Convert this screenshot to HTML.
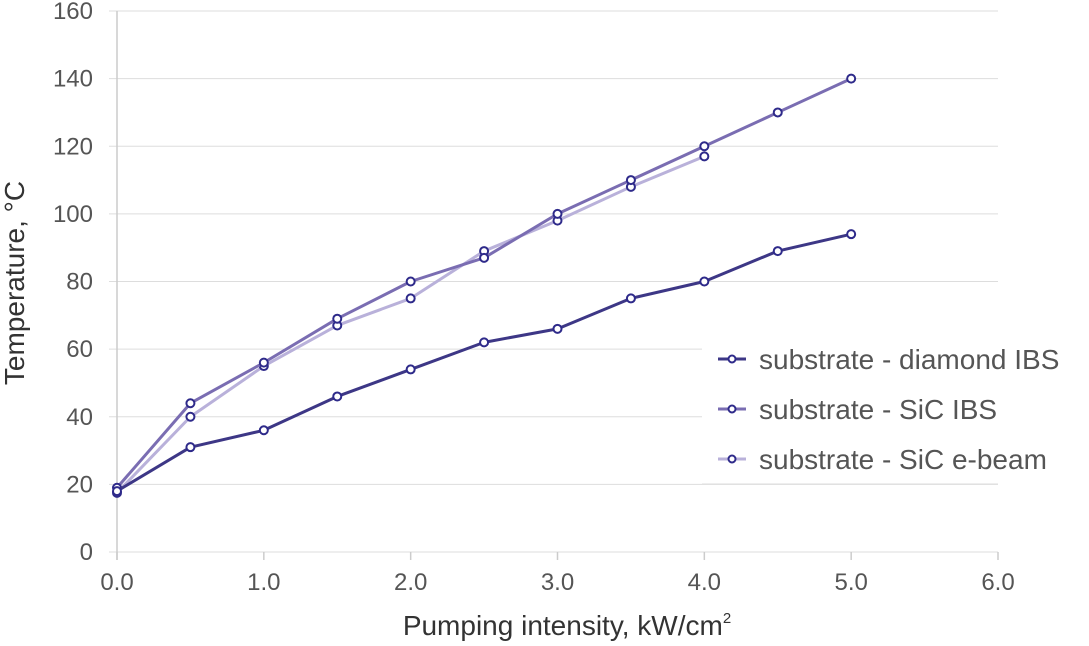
<!DOCTYPE html>
<html><head><meta charset="utf-8"><style>
body{margin:0;background:#fff;}
svg{font-family:"Liberation Sans",sans-serif;}
</style></head><body>
<svg id="chart" width="1089" height="641" xmlns="http://www.w3.org/2000/svg">
<g id="grid"></g><g id="axes"></g><g id="series"></g>
<g>
<rect x="702" y="334" width="387" height="150" fill="#fff"/>
<line x1="702" y1="484" x2="998" y2="484" stroke="#ddd" stroke-width="1"/>
<g>
<line x1="718" y1="359" x2="746" y2="359" stroke="#3d3786" stroke-width="3"/><circle cx="732" cy="359" r="3.5" fill="#fff" stroke="#2e2a8a" stroke-width="2"/>
<text x="759" y="369" font-size="28" fill="#555">substrate - diamond IBS</text></g>
<g>
<line x1="718" y1="409" x2="746" y2="409" stroke="#7a6db2" stroke-width="3"/><circle cx="732" cy="409" r="3.5" fill="#fff" stroke="#2e2a8a" stroke-width="2"/>
<text x="759" y="419" font-size="28" fill="#555">substrate - SiC IBS</text></g>
<g>
<line x1="718" y1="459" x2="746" y2="459" stroke="#b9b1da" stroke-width="3"/><circle cx="732" cy="459" r="3.5" fill="#fff" stroke="#2e2a8a" stroke-width="2"/>
<text x="759" y="469" font-size="28" fill="#555">substrate - SiC e-beam</text></g>
</g>
<text x="567" y="635" font-size="28" fill="#333" text-anchor="middle">Pumping intensity, kW/cm<tspan font-size="15" dy="-12">2</tspan></text>
<text transform="translate(24,283) rotate(-90)" font-size="28" fill="#333" text-anchor="middle">Temperature, °C</text>
</svg>
<script>
const xTicks=[0,1,2,3,4,5,6];
const yTicks=[0,20,40,60,80,100,120,140,160];
const xDiamond=[0,0.5,1,1.5,2,2.5,3,3.5,4,4.5,5];
const yDiamond=[18,31,36,46,54,62,66,75,80,89,94];
const xIBS=[0,0.5,1,1.5,2,2.5,3,3.5,4,4.5,5];
const yIBS=[19,44,56,69,80,87,100,110,120,130,140];
const xEbeam=[0,0.5,1,1.5,2,2.5,3,3.5,4];
const yEbeam=[17.5,40,55,67,75,89,98,108,117];
const X=v=>117+v*(998-117)/6;
const Y=v=>552-v*(552-11)/160;
const NS="http://www.w3.org/2000/svg";
function mk(t,a,p){const e=document.createElementNS(NS,t);for(const k in a)e.setAttribute(k,a[k]);p.appendChild(e);return e;}
const grid=document.getElementById('grid'),axes=document.getElementById('axes'),ser=document.getElementById('series');
yTicks.forEach(v=>{
 const l=mk('line',{x1:109,x2:998,y1:Y(v),y2:Y(v),stroke:'#ddd','stroke-width':1},grid);
 
 
 const t=mk('text',{x:93,y:Y(v)+8,'font-size':24,fill:'#555','text-anchor':'end'},axes);
 t.textContent=v;
 
 
});
const ax=mk('line',{x1:117,x2:117,y1:11,y2:560,stroke:'#ccc','stroke-width':1.5},axes);


xTicks.forEach(v=>{
 const tk=mk('line',{x1:X(v),x2:X(v),y1:552,y2:560,stroke:'#ccc','stroke-width':1.5},axes);
 
 
 const t=mk('text',{x:X(v),y:590,'font-size':24,fill:'#555','text-anchor':'middle'},axes);
 t.textContent=v.toFixed(1);
 
 
});
function series(xs,ys,col,name){
 const g=mk('g',{},ser);
 
 
 const pl=mk('polyline',{points:xs.map((x,i)=>X(x)+','+Y(ys[i])).join(' '),fill:'none',stroke:col,'stroke-width':3,'stroke-linejoin':'round'},g);
 
 
 xs.forEach((x,i)=>{
  const c=mk('circle',{cx:X(x),cy:Y(ys[i]),r:4,fill:'#fff',stroke:'#2e2a8a','stroke-width':2},g);
  
  
 });
}
series(xEbeam,yEbeam,'#b9b1da','series-sic-ebeam');
series(xIBS,yIBS,'#7a6db2','series-sic-ibs');
series(xDiamond,yDiamond,'#3d3786','series-diamond-ibs');
</script>
</body></html>
